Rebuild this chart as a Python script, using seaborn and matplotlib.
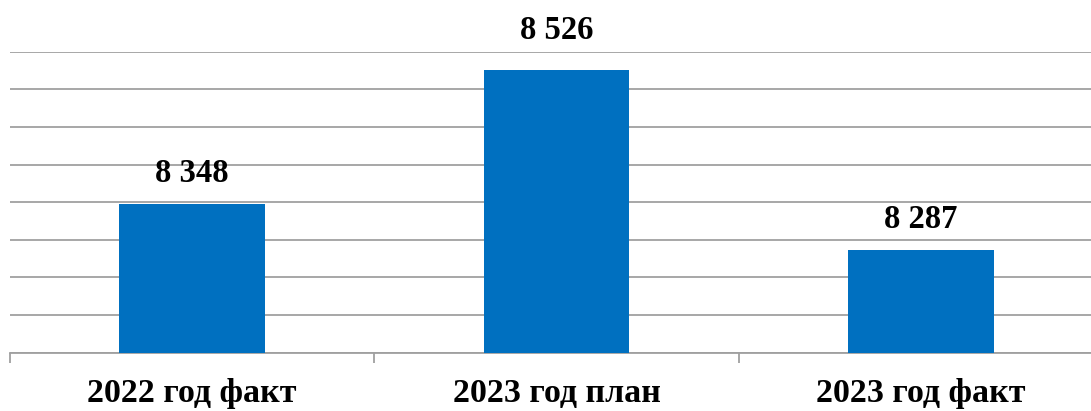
import pandas as pd
import seaborn as sns
import matplotlib.pyplot as plt
from matplotlib.ticker import FixedLocator, MultipleLocator

categories = ['2022 год факт', '2023 год план', '2023 год факт']
values = [8348, 8526, 8287]
value_labels = ['8 348', '8 526', '8 287']

df = pd.DataFrame({'cat': categories, 'val': values})

sns.set_style('white')
plt.rcParams['font.family'] = ['Liberation Serif', 'DejaVu Serif']
plt.rcParams['text.color'] = 'black'
plt.rcParams['xtick.color'] = 'black'

fig = plt.figure(figsize=(10.91, 4.11), dpi=100)
# axes runs a little past the right edge, like the original
ax = fig.add_axes([10 / 1091, (411 - 352.7) / 411, 1093 / 1091, 301 / 411])

sns.barplot(data=df, x='cat', y='val', color='#0070C0', width=0.4,
            saturation=1, linewidth=0, ax=ax, zorder=3)

ax.set_ylim(8150, 8550)
ax.set_xlim(-0.5, 2.5)
ax.yaxis.set_major_locator(MultipleLocator(50))
ax.grid(axis='y', color='#a0a0a0', linewidth=1.3, zorder=0)
ax.set_yticklabels([])
ax.tick_params(axis='y', length=0)

for s in ['top', 'right', 'left']:
    ax.spines[s].set_visible(False)
ax.spines['bottom'].set_color('#a0a0a0')
ax.spines['bottom'].set_linewidth(1.3)

ax.xaxis.set_minor_locator(FixedLocator([-0.5, 0.5, 1.5, 2.5]))
ax.tick_params(axis='x', which='both', bottom=True)
ax.tick_params(axis='x', which='major', length=0, pad=18, labelcolor='black')
ax.tick_params(axis='x', which='minor', length=7, width=1.3, color='#a0a0a0')
for t in ax.get_xticklabels():
    t.set_fontsize(24.5)
    t.set_fontweight('bold')

ax.set_xlabel('')
ax.set_ylabel('')

# label offsets above the bar tops, in points
offsets = [21.5, 28.5, 21.5]
for i, (v, lab) in enumerate(zip(values, value_labels)):
    ax.annotate(lab, (i, v), xytext=(0, offsets[i]), textcoords='offset points',
                ha='center', va='center', fontsize=23.5, fontweight='bold',
                color='black', annotation_clip=False)

plt.savefig('out.png', dpi=100)
